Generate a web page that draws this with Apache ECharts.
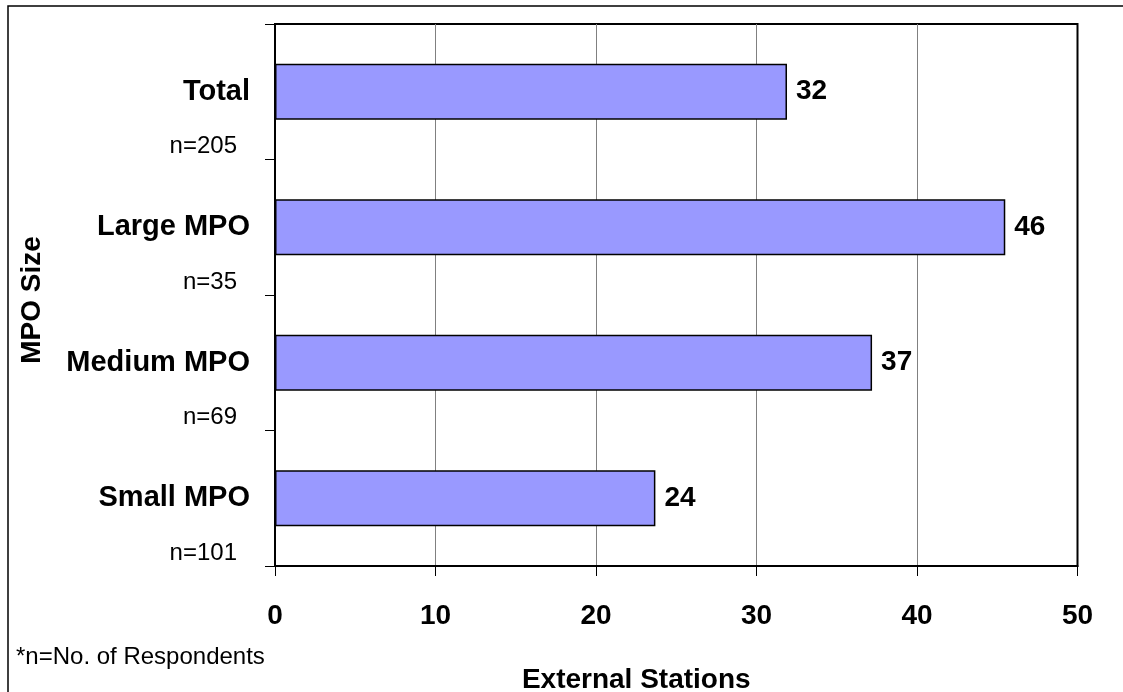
<!DOCTYPE html>
<html>
<head>
<meta charset="utf-8">
<script src="https://cdn.jsdelivr.net/npm/echarts@6/dist/echarts.min.js"></script>
<style>
html,body{margin:0;padding:0;background:#fff;}
#chart{width:1123px;height:692px;}
</style>
</head>
<body>
<div id="chart"></div>
<script>
const categories = ['Total', 'Large MPO', 'Medium MPO', 'Small MPO'];
const respondents = ['n=205', 'n=35', 'n=69', 'n=101'];
const values = [31.9, 45.5, 37.2, 23.7];
const xTicks = [0, 10, 20, 30, 40, 50];
const xAxisTitle = 'External Stations';
const yAxisTitle = 'MPO Size';
const footnote = '*n=No. of Respondents';

const FONT = '"Liberation Sans", Arial, sans-serif';
const chart = echarts.init(document.getElementById('chart'), null, {renderer: 'canvas'});

chart.setOption({
  animation: false,
  backgroundColor: '#fff',
  graphic: [{
    type: 'rect', shape: {x: 8, y: 6, width: 1300, height: 900},
    style: {fill: null, stroke: '#000', lineWidth: 1.5}, silent: true, z: -1
  }],
  title: {
    text: footnote, left: 11, top: 640,
    textStyle: {fontFamily: FONT, fontSize: 24, fontWeight: 'normal', color: '#000'}
  },
  grid: {
    left: 275, top: 24, right: 45.5, bottom: 126, containLabel: false,
    outerBoundsMode: 'none',
    show: true, borderColor: '#000', borderWidth: 2, backgroundColor: '#fff'
  },
  xAxis: {
    type: 'value', min: xTicks[0], max: xTicks[xTicks.length - 1], interval: 10,
    name: xAxisTitle, nameLocation: 'middle', nameGap: 100,
    nameTextStyle: {fontFamily: FONT, fontSize: 28, fontWeight: 'bold', color: '#000', padding: [0, 80, 0, 0]},
    axisLine: {show: true, lineStyle: {color: '#000', width: 2}},
    axisTick: {show: true, length: 10, lineStyle: {color: '#000', width: 1}},
    axisLabel: {margin: 36, fontFamily: FONT, fontSize: 28, fontWeight: 'bold', color: '#000'},
    splitLine: {show: true, showMinLine: false, showMaxLine: false, lineStyle: {color: '#808080', width: 1}}
  },
  yAxis: [{
    type: 'category', data: categories, inverse: true,
    name: yAxisTitle, nameLocation: 'middle', nameGap: 229, nameRotate: 90,
    nameTextStyle: {fontFamily: FONT, fontSize: 28, fontWeight: 'bold', color: '#000', padding: [0, 10, 0, 0]},
    axisLine: {show: true, lineStyle: {color: '#000', width: 2}},
    axisTick: {show: true, length: 10, lineStyle: {color: '#000', width: 1}},
    axisLabel: {interval: 0, margin: 25, fontFamily: FONT, fontSize: 29, fontWeight: 'bold', color: '#000', padding: [4, 0, 0, 0]},
    splitLine: {show: false}
  }, {
    type: 'category', data: respondents, inverse: true, position: 'left',
    axisLine: {show: false}, axisTick: {show: false}, splitLine: {show: false},
    axisLabel: {
      interval: 0, hideOverlap: false,
      margin: 38,
      formatter: function (v) { return '{n|' + v + '}'; },
      rich: {n: {fontFamily: FONT, fontSize: 24, color: '#000', padding: [110, 0, 0, 0], lineHeight: 28}}
    }
  }],
  series: [{
    type: 'bar', data: values, barWidth: 56, yAxisIndex: 0,
    itemStyle: {color: '#9999FF', borderColor: '#000', borderWidth: 1.5},
    label: {
      show: true, position: 'right', distance: 9,
      formatter: function (p) { return Math.round(p.value); },
      fontFamily: FONT, fontSize: 28, fontWeight: 'bold', color: '#000'
    }
  }]
});
</script>
</body>
</html>
